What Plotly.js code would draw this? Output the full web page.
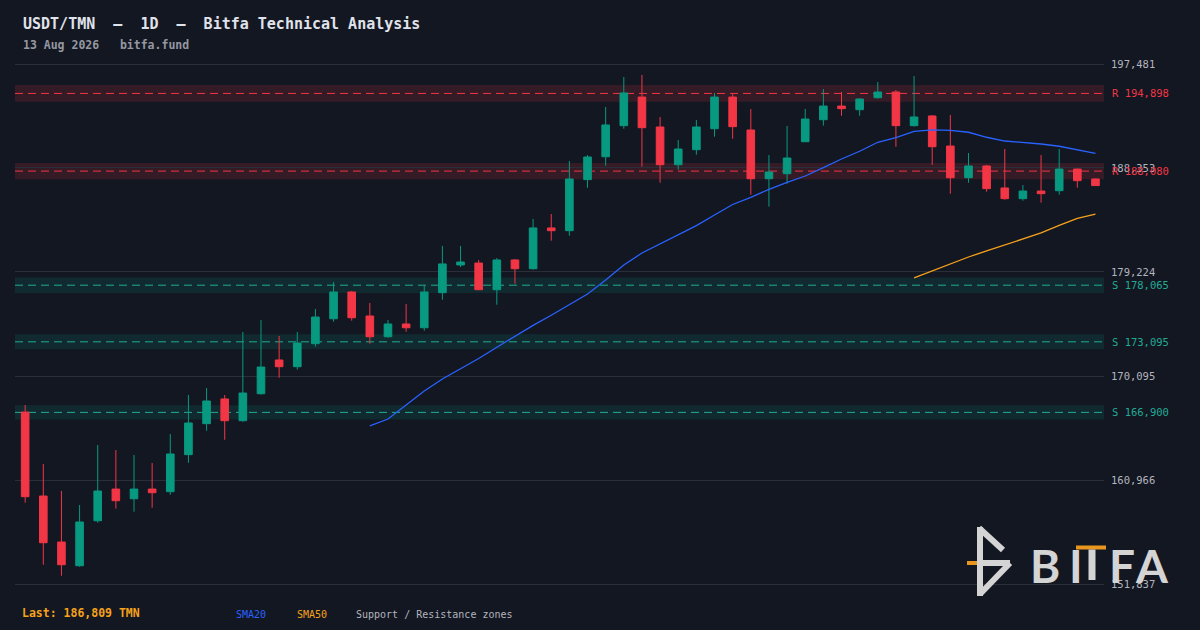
<!DOCTYPE html>
<html>
<head>
<meta charset="utf-8">
<script src="https://cdn.plot.ly/plotly-3.0.1.min.js"></script>
<style>html,body{margin:0;padding:0;background:#131722;}#chart{width:1200px;height:630px;}</style>
</head>
<body>
<div id="chart"></div>
<script>
// ---- data ----
const dates = ["2026-06-15","2026-06-16","2026-06-17","2026-06-18","2026-06-19","2026-06-20","2026-06-21","2026-06-22","2026-06-23","2026-06-24",
"2026-06-25","2026-06-26","2026-06-27","2026-06-28","2026-06-29","2026-06-30","2026-07-01","2026-07-02","2026-07-03","2026-07-04",
"2026-07-05","2026-07-06","2026-07-07","2026-07-08","2026-07-09","2026-07-10","2026-07-11","2026-07-12","2026-07-13","2026-07-14",
"2026-07-15","2026-07-16","2026-07-17","2026-07-18","2026-07-19","2026-07-20","2026-07-21","2026-07-22","2026-07-23","2026-07-24",
"2026-07-25","2026-07-26","2026-07-27","2026-07-28","2026-07-29","2026-07-30","2026-07-31","2026-08-01","2026-08-02","2026-08-03",
"2026-08-04","2026-08-05","2026-08-06","2026-08-07","2026-08-08","2026-08-09","2026-08-10","2026-08-11","2026-08-12","2026-08-13"];

const openPrices = [166930,159560,155520,153440,157390,160170,159320,160170,159940,163190,
165910,168080,166170,168540,171500,170910,172930,175120,177470,175360,
173540,174660,174330,177410,179840,180010,177670,180280,179510,183090,
182850,187330,189340,192070,194580,191950,188640,189960,191800,194580,
191690,187410,187850,190660,192590,193790,193470,194520,195020,192070,
192920,190280,187500,188530,186600,185660,186330,186360,188260,187390];

const highPrices = [167550,162370,160000,158770,164040,163600,163160,162460,165000,168430,
169040,168430,173960,175010,173610,173960,175980,178350,177560,176500,
175010,176410,178020,181510,181510,180280,180450,180360,183880,184310,
188970,189490,193710,196340,196520,192830,190810,192570,194940,194850,
193530,189490,192040,193530,195290,195020,194450,195900,195200,196430,
193000,193000,189670,188620,190020,186860,189490,190020,188310,187420];

const lowPrices = [158970,153530,152560,153350,157220,158450,158180,158530,159670,162480,
165290,164500,166080,168450,169940,170650,172670,174860,174950,172930,
173460,173980,174070,176790,179660,177640,176350,178200,179430,181970,
182410,186620,188550,191800,188470,187060,188200,189520,191100,190920,
186010,184960,186970,190660,192070,192940,192940,194440,190220,191980,
188640,186100,187060,186270,185570,185480,185310,186010,186620,186780];

const closePrices = [159500,155460,153530,157280,160000,159150,160170,159850,163250,165970,
167900,166170,168600,170880,170910,172990,175270,177470,175210,173540,
174660,174330,177470,179930,180100,177670,180280,179510,183090,182850,
187390,189320,192130,194940,191890,188640,190020,191950,194580,191980,
187410,188000,189230,192650,193790,193560,194410,195020,192070,192830,
190220,187500,188530,186540,185660,186330,186100,188260,187240,186809];

// SMA values (SMA20 starts at the 20th candle, SMA50 at the 50th)
const sma20Values = [165710,166320,167550,168780,169830,170710,171630,172620,173590,174540,
175430,176330,177290,178520,179840,180890,181680,182530,183290,184230,
185150,185780,186480,187100,187650,188380,189140,189820,190610,191010,
191570,191690,191660,191490,191050,190720,190610,190460,190260,189930,189640];
const sma50Values = [178700,179310,179970,180540,181070,181590,182080,182650,183310,183920,184310];

const yTickVals = [151837,160966,170095,179224,188353,197481];
const yTickText = ["151,837","160,966","170,095","179,224","188,353","197,481"];

const zoneLevels = [194898,188080,178065,173095,166900];
const zoneKinds  = ["R","R","S","S","S"];

const lastPrice = 186809;

// ---- styling ----
const BG = "#131722";
const MONO = "DejaVu Sans Mono, monospace";
const UP = "#089981", DOWN = "#f23645";
const RCOL = "#f23645", SCOL = "#22ab94";
const SMA20COL = "#2962ff", SMA50COL = "#f7a21b";

// layout pixel helpers (plot area: x 15..1104, y 60..588)
const X = px => (px - 15) / 1089;
const Y = py => (588 - py) / 528;

const fmt = v => v.toLocaleString("en-US");

const traces = [
  {
    type: "candlestick",
    x: dates, open: openPrices, high: highPrices, low: lowPrices, close: closePrices,
    increasing: {line: {color: UP, width: 1}, fillcolor: UP},
    decreasing: {line: {color: DOWN, width: 1}, fillcolor: DOWN},
    whiskerwidth: 0,
    hoverinfo: "skip",
    showlegend: false
  },
  {
    type: "scatter", mode: "lines",
    x: dates.slice(dates.length - sma20Values.length), y: sma20Values,
    line: {color: SMA20COL, width: 1.3},
    hoverinfo: "skip", showlegend: false
  },
  {
    type: "scatter", mode: "lines",
    x: dates.slice(dates.length - sma50Values.length), y: sma50Values,
    line: {color: SMA50COL, width: 1.3},
    hoverinfo: "skip", showlegend: false
  }
];

const shapes = [];
const annotations = [];

zoneLevels.forEach((lvl, i) => {
  const isR = zoneKinds[i] === "R";
  const col = isR ? RCOL : SCOL;
  const fill = isR ? "rgba(242,54,69,0.15)" : "rgba(8,153,129,0.15)";
  const half = lvl * 0.0038;
  shapes.push({type: "rect", xref: "paper", yref: "y", x0: 0, x1: 1, y0: lvl - half, y1: lvl + half,
    fillcolor: fill, line: {width: 0}, layer: "below"});
  shapes.push({type: "line", xref: "paper", yref: "y", x0: 0, x1: 1, y0: lvl, y1: lvl,
    line: {color: col, width: 1, dash: "8px,5px"}, layer: "below"});
  annotations.push({xref: "paper", yref: "y", x: 1, y: lvl, xanchor: "left", yanchor: "middle", xshift: 6,
    text: zoneKinds[i] + " " + fmt(lvl), showarrow: false, font: {family: MONO, size: 10.5, color: col}});
});

// title / subtitle
annotations.push({xref: "paper", yref: "paper", x: X(21), y: Y(24), xanchor: "left", yanchor: "middle", showarrow: false,
  text: "USDT/TMN\u00a0\u00a0—\u00a0\u00a01D\u00a0\u00a0—\u00a0\u00a0Bitfa Technical Analysis",
  font: {family: MONO, size: 15, color: "#e0e3eb", weight: "bold"}});
annotations.push({xref: "paper", yref: "paper", x: X(21), y: Y(45), xanchor: "left", yanchor: "middle", showarrow: false,
  text: "13 Aug 2026\u00a0\u00a0\u00a0bitfa.fund",
  font: {family: MONO, size: 11.5, color: "#9598a1", weight: "bold"}});

// bottom legend texts
annotations.push({xref: "paper", yref: "paper", x: X(20), y: Y(613), xanchor: "left", yanchor: "middle", showarrow: false,
  text: "Last: " + fmt(lastPrice) + " TMN", font: {family: MONO, size: 11.5, color: SMA50COL, weight: "bold"}});
annotations.push({xref: "paper", yref: "paper", x: X(234), y: Y(614), xanchor: "left", yanchor: "middle", showarrow: false,
  text: "SMA20", font: {family: MONO, size: 10, color: SMA20COL}});
annotations.push({xref: "paper", yref: "paper", x: X(295), y: Y(614), xanchor: "left", yanchor: "middle", showarrow: false,
  text: "SMA50", font: {family: MONO, size: 10, color: SMA50COL}});
annotations.push({xref: "paper", yref: "paper", x: X(354), y: Y(614), xanchor: "left", yanchor: "middle", showarrow: false,
  text: "Support / Resistance zones", font: {family: MONO, size: 10, color: "#b2b5be"}});

// logo
const LOGO = "#d4d4d4", LOGO_OR = "#e8961e";
const seg = (x0, y0, x1, y1) => shapes.push({type: "line", xref: "paper", yref: "paper",
  x0: X(x0), y0: Y(y0), x1: X(x1), y1: Y(y1), line: {color: LOGO, width: 6}, layer: "above"});
seg(980, 527, 980, 596);
seg(979, 528, 1003, 550);
seg(980, 563, 1010, 563);
seg(1010, 563, 981, 593);
shapes.push({type: "rect", xref: "paper", yref: "paper", x0: X(967), x1: X(977), y0: Y(565), y1: Y(561),
  fillcolor: LOGO_OR, line: {width: 0}, layer: "above"});
shapes.push({type: "rect", xref: "paper", yref: "paper", x0: X(1076), x1: X(1106), y0: Y(549.5), y1: Y(545.5),
  fillcolor: LOGO_OR, line: {width: 0}, layer: "above"});
shapes.push({type: "rect", xref: "paper", yref: "paper", x0: X(1088.5), x1: X(1095.5), y0: Y(580), y1: Y(549.5),
  fillcolor: LOGO, line: {width: 0}, layer: "above"});
[["B", 1044.5], ["I", 1076], ["F", 1122], ["A", 1151.5]].forEach(([ch, cx]) => {
  annotations.push({xref: "paper", yref: "paper", x: X(cx), y: Y(565), xanchor: "center", yanchor: "middle",
    showarrow: false, text: ch, font: {family: "Lato, Open Sans, sans-serif", size: 46, color: LOGO, weight: "bold"}});
});

const layout = {
  width: 1200, height: 630,
  paper_bgcolor: BG, plot_bgcolor: BG,
  margin: {l: 15, r: 96, t: 60, b: 42, pad: 0},
  showlegend: false,
  xaxis: {type: "category", range: [-0.56, 59.47], showgrid: false, zeroline: false, showline: false,
    showticklabels: false, ticks: "", rangeslider: {visible: false}, fixedrange: true},
  yaxis: {side: "right", range: [151486, 197832], tickmode: "array", tickvals: yTickVals, ticktext: yTickText,
    showgrid: true, gridcolor: "#2a2e39", gridwidth: 1, zeroline: false, showline: false, ticks: "",
    ticklabelstandoff: 6, tickfont: {family: MONO, size: 10.5, color: "#b2b5be"}, fixedrange: true},
  boxgap: 0.4,
  shapes: shapes,
  annotations: annotations
};

Plotly.newPlot("chart", traces, layout, {displayModeBar: false, staticPlot: true});
</script>
</body>
</html>
